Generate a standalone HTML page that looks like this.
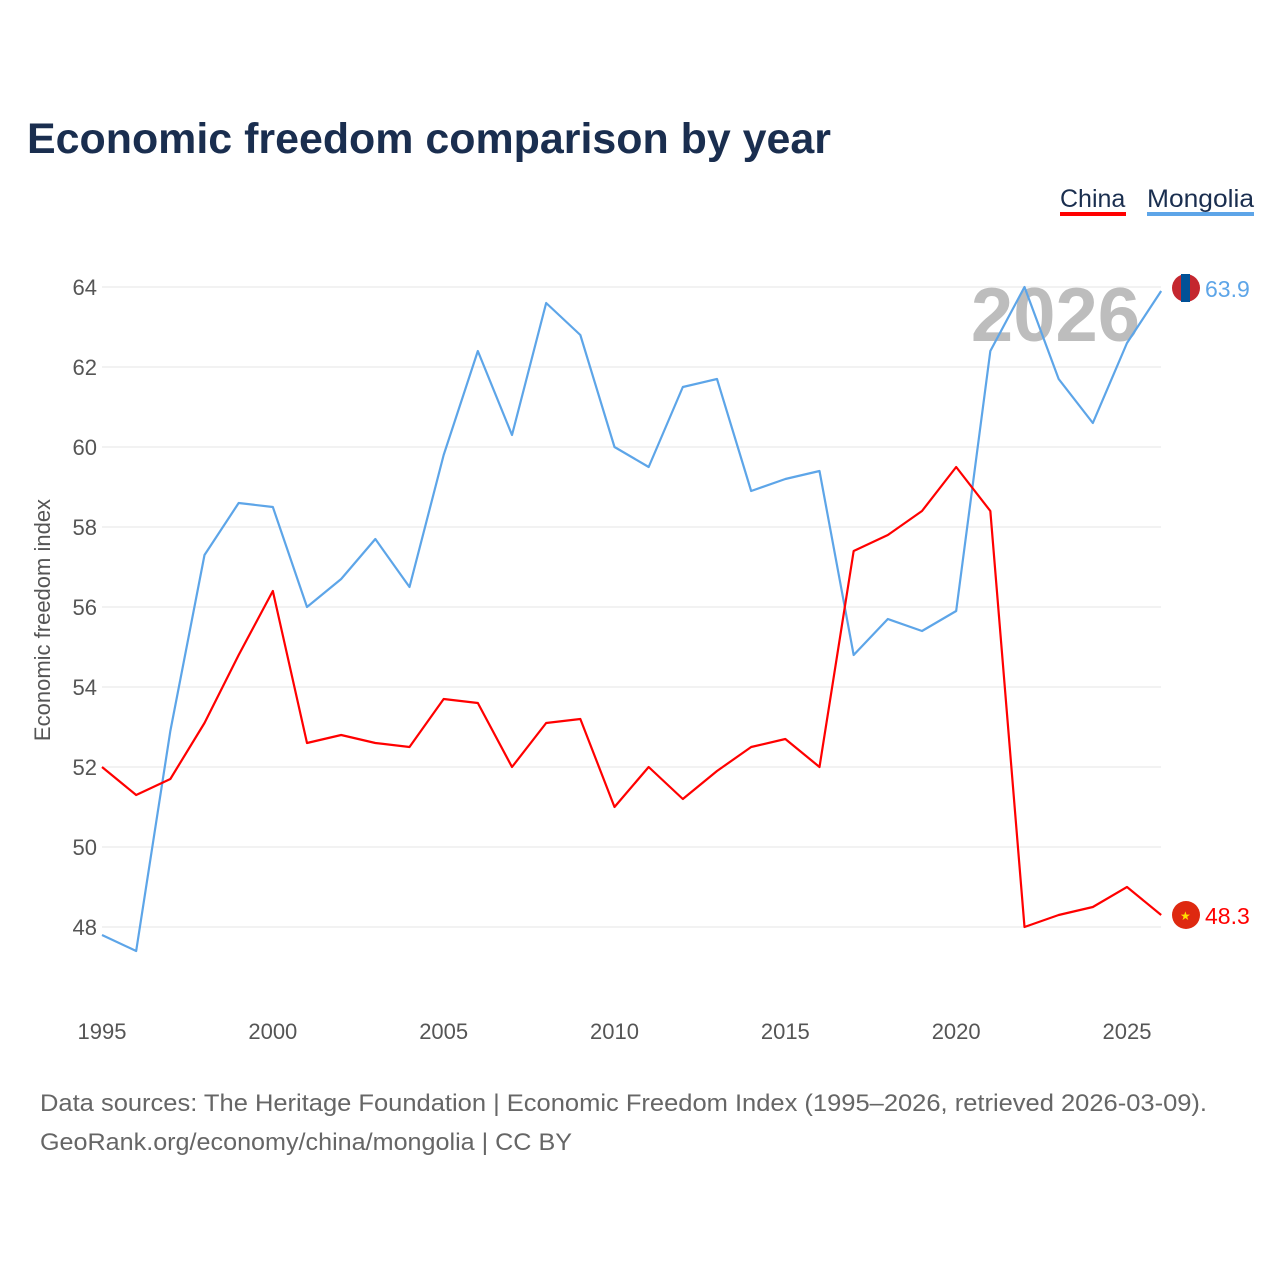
<!DOCTYPE html>
<html><head><meta charset="utf-8">
<style>
body{margin:0;background:#fff;width:1280px;height:1280px;overflow:hidden;font-family:"Liberation Sans",sans-serif;}
svg text{font-family:"Liberation Sans",sans-serif;}
</style></head>
<body>
<svg id="chart" width="1280" height="1280">
<text x="27" y="153" font-size="43" font-weight="bold" fill="#1a2e4f" textLength="804" lengthAdjust="spacingAndGlyphs">Economic freedom comparison by year</text>
<g><text x="1060" y="207" font-size="25" fill="#1a2e4f">China</text><rect x="1060" y="212" width="66" height="4" fill="#ff0000"/></g>
<g><text x="1147" y="207" font-size="25" fill="#1a2e4f" textLength="107" lengthAdjust="spacingAndGlyphs">Mongolia</text><rect x="1147" y="212" width="107" height="4" fill="#5da5e8"/></g>
<text x="1140" y="341" font-size="76" font-weight="bold" fill="#bdbdbd" text-anchor="end">2026</text>
<g id="grid"></g>
<g id="xticks"></g>
<text transform="translate(50,620) rotate(-90)" font-size="22" fill="#555" text-anchor="middle">Economic freedom index</text>
<g id="series"></g>
<text x="40" y="1111" font-size="24" fill="#666" textLength="1167" lengthAdjust="spacingAndGlyphs">Data sources: The Heritage Foundation | Economic Freedom Index (1995–2026, retrieved 2026-03-09).</text>
<text x="40" y="1150" font-size="24" fill="#666" textLength="532" lengthAdjust="spacingAndGlyphs">GeoRank.org/economy/china/mongolia | CC BY</text>
</svg>
<script>
const years=[1995,1996,1997,1998,1999,2000,2001,2002,2003,2004,2005,2006,2007,2008,2009,2010,2011,2012,2013,2014,2015,2016,2017,2018,2019,2020,2021,2022,2023,2024,2025,2026];
const china=[52.0,51.3,51.7,53.1,54.8,56.4,52.6,52.8,52.6,52.5,53.7,53.6,52.0,53.1,53.2,51.0,52.0,51.2,51.9,52.5,52.7,52.0,57.4,57.8,58.4,59.5,58.4,48.0,48.3,48.5,49.0,48.3];
const mongolia=[47.8,47.4,52.9,57.3,58.6,58.5,56.0,56.7,57.7,56.5,59.8,62.4,60.3,63.6,62.8,60.0,59.5,61.5,61.7,58.9,59.2,59.4,54.8,55.7,55.4,55.9,62.4,64.0,61.7,60.6,62.6,63.9];
const yTicks=[48,50,52,54,56,58,60,62,64];
const xTicks=[1995,2000,2005,2010,2015,2020,2025];
const NS="http://www.w3.org/2000/svg";
const x=v=>102+(v-1995)*(1127-102)/30;
const y=v=>927-(v-48)*40;
function mk(tag,attrs,parent){const e=document.createElementNS(NS,tag);for(const k in attrs)e.setAttribute(k,attrs[k]);parent.appendChild(e);return e;}
const grid=document.getElementById('grid');
yTicks.forEach(t=>{
  const l=mk('line',{x1:102,x2:1161,y1:y(t),y2:y(t),stroke:'#e6e6e6','stroke-width':1},grid);
  
  
  const tx=mk('text',{x:97,y:y(t)+8,'font-size':22,fill:'#555','text-anchor':'end'},grid);
  tx.textContent=t;
  
  
});
const xg=document.getElementById('xticks');
xTicks.forEach(t=>{
  const tx=mk('text',{x:x(t),y:1039,'font-size':22,fill:'#555','text-anchor':'middle'},xg);
  tx.textContent=t;
  
  
});
const sg=document.getElementById('series');
function line(vals,color,name,dy){
  const p=mk('polyline',{points:vals.map((v,i)=>x(years[i])+','+y(v)).join(' '),fill:'none',stroke:color,'stroke-width':2.2,'stroke-linejoin':'round'},sg);
  
  
  const last=vals[vals.length-1];
  const cy=y(last)+dy;
  const c=mk('circle',{cx:1186,cy:cy,r:14,fill:name==='china'?'#de2910':'#c4272f'},sg);
  
  
  if(name==='mongolia'){
    const r=mk('rect',{x:1181,y:cy-14,width:9,height:28,fill:'#015197'},sg);
    
    
  } else {
    const s=mk('text',{x:1180,y:cy+5,'font-size':12,fill:'#ffde00'},sg);
    s.textContent='★';
    
    
  }
  const lab=mk('text',{x:1205,y:cy+9,'font-size':23,fill:color},sg);
  lab.textContent=last.toFixed(1);
  
  
}
line(mongolia,'#5da5e8','mongolia',-3);
line(china,'#ff0000','china',0);
</script>
</body></html>
